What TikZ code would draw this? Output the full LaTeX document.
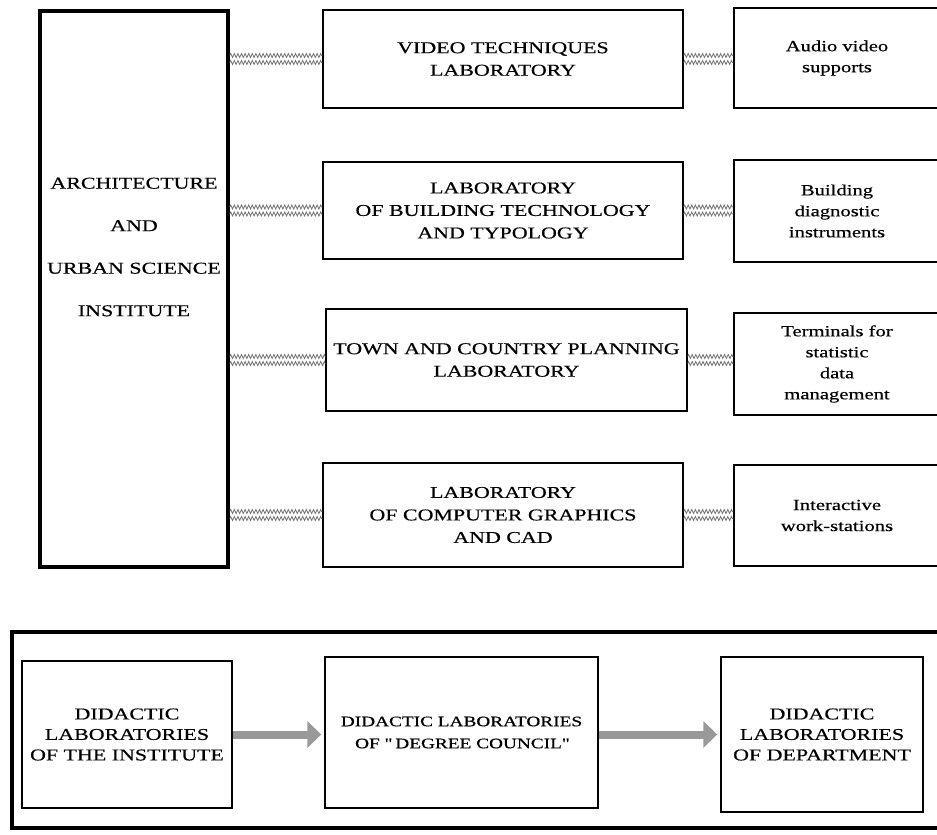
\documentclass[tikz,border=0pt]{standalone}
\usepackage{fontspec}
\usetikzlibrary{arrows.meta,decorations.pathmorphing}
\newfontfamily\labserif{Liberation Serif}[FakeStretch=1.33,FakeBold=0.5]
\newcommand\labfont{\labserif\fontsize{16.5}{22.5}\selectfont}
\newcommand\eqfont{\labserif\fontsize{15.5}{21}\selectfont}
\newcommand\didfont{\labserif\fontsize{16.5}{20.5}\selectfont}
\newcommand\councilfont{\labserif\fontsize{14.5}{22}\selectfont}

\tikzset{
  box/.style={draw, line width=1.4pt, inner sep=0pt, align=center, font=\labfont},
  eqbox/.style={box, font=\eqfont},
  didbox/.style={box, font=\didfont},
  heavybox/.style={draw, line width=3.6pt, inner sep=0pt},
  plaintext/.style={inner sep=0pt, align=center, font=\labfont},
  hatch/.style={draw=black!55, line width=0.8pt,
    decorate, decoration={zigzag, segment length=3.6pt, amplitude=2pt}},
  bigarrow/.style={draw=black!40, line width=8pt,
    -{Triangle[length=14pt,width=26pt]}, shorten >=3pt}
}

\begin{document}
\begin{tikzpicture}[x=1pt,y=-1pt]
\useasboundingbox (0,0) rectangle (937,835);

% institute column
\node[heavybox, minimum width=188pt, minimum height=556pt] (inst) at (134,289) {};
\node[plaintext] (insttext) at (134,247)
  {ARCHITECTURE\\[20pt]AND\\[20pt]URBAN SCIENCE\\[20pt]INSTITUTE};

% laboratories
\node[box, minimum width=360pt, minimum height=98pt] (b1) at (503,59)
  {VIDEO TECHNIQUES\\LABORATORY};
\node[box, minimum width=360pt, minimum height=97pt] (b2) at (503,210.5)
  {LABORATORY\\OF BUILDING TECHNOLOGY\\AND TYPOLOGY};
\node[box, minimum width=361pt, minimum height=102pt] (b3) at (506.5,360)
  {TOWN AND COUNTRY PLANNING\\LABORATORY};
\node[box, minimum width=360pt, minimum height=104pt] (b4) at (503,515)
  {LABORATORY\\OF COMPUTER GRAPHICS\\AND CAD};

% equipment
\node[eqbox, minimum width=206pt, minimum height=100pt] (s1) at (837,58)
  {Audio video\\supports};
\node[eqbox, minimum width=206pt, minimum height=102pt] (s2) at (837,211)
  {Building\\diagnostic\\instruments};
\node[eqbox, minimum width=206pt, minimum height=102pt] (s3) at (837,364)
  {Terminals for\\statistic\\data\\management};
\node[eqbox, minimum width=206pt, minimum height=101pt] (s4) at (837,515.5)
  {Interactive\\work-stations};

% hatched links
\foreach \lab/\eq in {b1/s1,b2/s2,b3/s3,b4/s4}{
  \foreach \d in {-3.5,3.5}{
    \draw[hatch] ([yshift=\d pt]inst.east |- \lab.west) -- ([yshift=\d pt]\lab.west);
    \draw[hatch] ([yshift=\d pt]\lab.east) -- ([yshift=\d pt]\eq.west |- \lab.east);
  }
}

% didactic chain
\node[heavybox, minimum width=933pt, minimum height=196pt] (frame) at (478.5,730) {};
\node[didbox, minimum width=210pt, minimum height=147pt] (da) at (127,734.5)
  {DIDACTIC\\LABORATORIES\\OF THE INSTITUTE};
\node[box, font=\councilfont, minimum width=273pt, minimum height=151pt] (db) at (461.5,732.5)
  {DIDACTIC LABORATORIES\\OF \textquotedbl\ DEGREE COUNCIL\textquotedbl};
\node[didbox, minimum width=202pt, minimum height=155pt] (dc) at (822,734.5)
  {DIDACTIC\\LABORATORIES\\OF DEPARTMENT};

\draw[bigarrow] (da.east) -- (da.east -| db.west);
\draw[bigarrow] (db.east |- da.east) -- (da.east -| dc.west);
\end{tikzpicture}
\end{document}
